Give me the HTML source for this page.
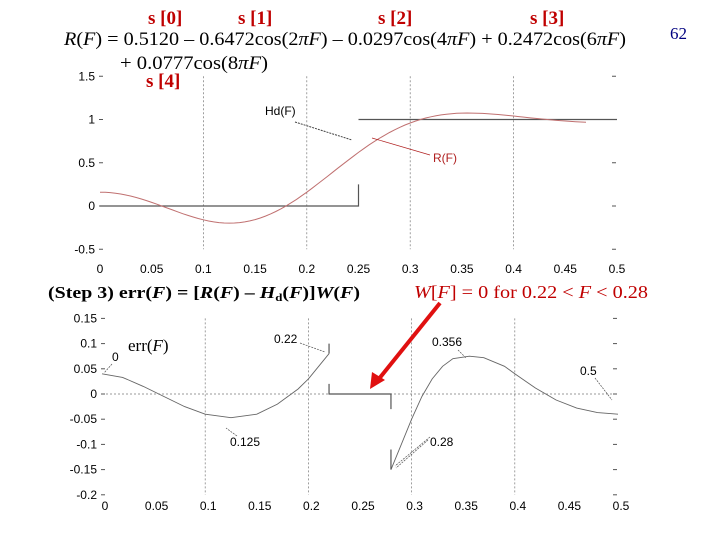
<!DOCTYPE html>
<html><head><meta charset="utf-8"><style>
body{margin:0;background:#fff;}
svg text{font-family:"Liberation Sans",sans-serif;}
.serif{font-family:"Liberation Serif",serif !important;}
</style></head><body>
<svg id="s" width="720" height="540" viewBox="0 0 720 540" xmlns="http://www.w3.org/2000/svg">
<g class="serif" font-size="19">
<text x="148" y="24" fill="#c00000" font-weight="bold" class="serif">s [0]</text>
<text x="238" y="24" fill="#c00000" font-weight="bold" class="serif">s [1]</text>
<text x="378" y="24" fill="#c00000" font-weight="bold" class="serif">s [2]</text>
<text x="530" y="24" fill="#c00000" font-weight="bold" class="serif">s [3]</text>
<text x="64" y="45" class="serif" textLength="562" lengthAdjust="spacingAndGlyphs"><tspan font-style="italic">R</tspan>(<tspan font-style="italic">F</tspan>) = 0.5120 – 0.6472cos(2<tspan font-style="italic">πF</tspan>) – 0.0297cos(4<tspan font-style="italic">πF</tspan>) + 0.2472cos(6<tspan font-style="italic">πF</tspan>)</text>
<text x="120" y="69" class="serif" textLength="148" lengthAdjust="spacingAndGlyphs">+ 0.0777cos(8<tspan font-style="italic">πF</tspan>)</text>
<text x="146" y="87" fill="#c00000" font-weight="bold" class="serif">s [4]</text>
<text x="670" y="39" fill="#000080" font-size="17" class="serif">62</text>
<text x="48" y="298" font-weight="bold" font-size="17" class="serif" textLength="312" lengthAdjust="spacingAndGlyphs">(Step 3) err(<tspan font-style="italic">F</tspan>) = [<tspan font-style="italic">R</tspan>(<tspan font-style="italic">F</tspan>) – <tspan font-style="italic">H</tspan><tspan font-size="11" dy="3">d</tspan><tspan dy="-3">(</tspan><tspan font-style="italic">F</tspan>)]<tspan font-style="italic">W</tspan>(<tspan font-style="italic">F</tspan>)</text>
<text x="414" y="298" fill="#c00000" font-size="18" class="serif" textLength="234" lengthAdjust="spacingAndGlyphs"><tspan font-style="italic">W</tspan>[<tspan font-style="italic">F</tspan>] = 0 for 0.22 &lt; <tspan font-style="italic">F</tspan> &lt; 0.28</text>
<text x="128" y="351" font-size="17" class="serif">err(<tspan font-style="italic">F</tspan>)</text>
</g>
<g id="top"></g><g id="bot"></g>
<line x1="440" y1="303" x2="378" y2="380" stroke="#e01010" stroke-width="4"/>
<polygon points="370,389 372,372 385,380" fill="#e01010"/>
</svg>
<script>
const coeffs=[0.5120,-0.6472,-0.0297,0.2472,0.0777];
const xTicks=[0,0.05,0.1,0.15,0.2,0.25,0.3,0.35,0.4,0.45,0.5];
const xTickLabels=["0","0.05","0.1","0.15","0.2","0.25","0.3","0.35","0.4","0.45","0.5"];
const topYTicks=[1.5,1,0.5,0,-0.5];
const topYLabels=["1.5","1","0.5","0","-0.5"];
const botYTicks=[0.15,0.1,0.05,0,-0.05,-0.1,-0.15,-0.2];
const botYLabels=["0.15","0.1","0.05","0","-0.05","-0.1","-0.15","-0.2"];
const gridF=[0.1,0.2,0.3,0.4];
const errF1=[0,0.02,0.04,0.06,0.08,0.1,0.125,0.15,0.17,0.19,0.2,0.21,0.22];
const errV1=[0.04,0.033,0.015,-0.005,-0.025,-0.04,-0.047,-0.04,-0.02,0.01,0.03,0.055,0.08];
const errF2=[0.28,0.29,0.3,0.31,0.32,0.33,0.34,0.356,0.37,0.39,0.4,0.42,0.44,0.46,0.48,0.5];
const errV2=[-0.15,-0.1,-0.05,-0.005,0.03,0.055,0.07,0.075,0.072,0.055,0.04,0.012,-0.012,-0.028,-0.037,-0.04];
const NS="http://www.w3.org/2000/svg";
function mk(p,t,a){const e=document.createElementNS(NS,t);for(const k in a)e.setAttribute(k,a[k]);p.appendChild(e);return e;}
function R(F){let s=0;coeffs.forEach((c,k)=>s+=c*Math.cos(2*Math.PI*k*F));return s;}
const T=document.getElementById('top');
const tx=F=>100+F*1034, ty=v=>206-v*86.5;
gridF.forEach(f=>{const l=mk(T,'line',{x1:tx(f),x2:tx(f),y1:ty(1.5),y2:ty(-0.5),stroke:'#777','stroke-dasharray':'2,2','stroke-width':0.7});

});
topYTicks.forEach((v,i)=>{const t=mk(T,'text',{x:95,y:ty(v)+4,'text-anchor':'end','font-size':12});t.textContent=topYLabels[i];


mk(T,'line',{x1:99,x2:103,y1:ty(v),y2:ty(v),stroke:'#555'});mk(T,'line',{x1:612,x2:616,y1:ty(v),y2:ty(v),stroke:'#555'});});
xTicks.forEach((f,i)=>{const t=mk(T,'text',{x:tx(f),y:273,'text-anchor':'middle','font-size':12});t.textContent=xTickLabels[i];

});
let hd=mk(T,'path',{d:`M${tx(0)},${ty(0)}H${tx(0.25)}V${ty(0.25)}M${tx(0.25)},${ty(1)}H${tx(0.5)}`,fill:'none',stroke:'#555','stroke-width':1.2});


let d='';for(let i=0;i<=94;i++){const F=i*0.005;d+=(i?'L':'M')+tx(F).toFixed(1)+','+ty(R(F)).toFixed(1);}
let rl=mk(T,'path',{d:d,fill:'none',stroke:'#c07070','stroke-width':1});


let a1=mk(T,'text',{x:265,y:115,'font-size':12});a1.textContent='Hd(F)';


mk(T,'line',{x1:295,x2:352,y1:122,y2:140,stroke:'#444','stroke-dasharray':'2,1'});
let a2=mk(T,'text',{x:433,y:162,'font-size':12,fill:'#b02020'});a2.textContent='R(F)';


mk(T,'line',{x1:430,x2:372,y1:155,y2:138,stroke:'#b02020','stroke-width':0.7});
const B=document.getElementById('bot');
const bx=F=>102+F*1032, by=v=>394-v*504;
gridF.forEach(f=>{const l=mk(B,'line',{x1:bx(f),x2:bx(f),y1:by(0.15),y2:by(-0.2),stroke:'#777','stroke-dasharray':'2,2','stroke-width':0.7});

});
let zl=mk(B,'line',{x1:bx(0),x2:bx(0.5),y1:by(0),y2:by(0),stroke:'#777','stroke-dasharray':'2,2','stroke-width':0.7});


botYTicks.forEach((v,i)=>{const t=mk(B,'text',{x:97,y:by(v)+4,'text-anchor':'end','font-size':12});t.textContent=botYLabels[i];


mk(B,'line',{x1:101,x2:105,y1:by(v),y2:by(v),stroke:'#555'});mk(B,'line',{x1:613,x2:617,y1:by(v),y2:by(v),stroke:'#555'});});
xTicks.forEach((f,i)=>{const t=mk(B,'text',{x:bx(f)+3,y:510,'text-anchor':'middle','font-size':12});t.textContent=xTickLabels[i];

});
function poly(F,V){return F.map((f,i)=>(i?'L':'M')+bx(f).toFixed(1)+','+by(V[i]).toFixed(1)).join('');}
let e1=mk(B,'path',{d:poly(errF1,errV1),fill:'none',stroke:'#666','stroke-width':0.9});


let e2=mk(B,'path',{d:poly(errF2,errV2),fill:'none',stroke:'#666','stroke-width':0.9});


let tb=mk(B,'path',{d:`M${bx(0.22)},${by(0.1)}V${by(0.08)}M${bx(0.22)},${by(0.02)}V${by(0)}H${bx(0.28)}V${by(-0.03)}M${bx(0.28)},${by(-0.11)}V${by(-0.15)}`,fill:'none',stroke:'#555','stroke-width':1.2});


[['0',112,361],['0.22',274,343],['0.125',230,446],['0.356',432,346],['0.28',430,446],['0.5',580,375]].forEach(a=>{const t=mk(B,'text',{x:a[1],y:a[2],'font-size':12});t.textContent=a[0];

});
[[112,364,104,373],[300,343,325,352],[237,436,226,428],[458,350,466,358],[428,440,396,468],[595,378,612,400],[430,437,395,466]].forEach(p=>{const l=mk(B,'line',{x1:p[0],y1:p[1],x2:p[2],y2:p[3],stroke:'#555','stroke-width':0.7,'stroke-dasharray':'2,1'});

});
</script>
</body></html>
